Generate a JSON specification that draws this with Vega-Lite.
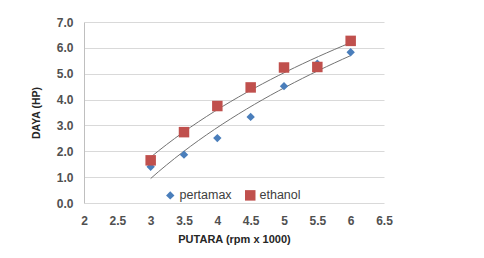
{
  "$schema": "https://vega.github.io/schema/vega-lite/v6.json",
  "width": 300,
  "height": 181,
  "autosize": "none",
  "padding": {"left": 84, "top": 22, "right": 100, "bottom": 55},
  "background": "white",
  "config": {
    "font": "Liberation Sans",
    "view": {"stroke": null}
  },
  "data": {
    "values": [
      {"fuel": "pertamax", "putara": 3, "daya": 1.40},
      {"fuel": "pertamax", "putara": 3.5, "daya": 1.87},
      {"fuel": "pertamax", "putara": 4, "daya": 2.51},
      {"fuel": "pertamax", "putara": 4.5, "daya": 3.33},
      {"fuel": "pertamax", "putara": 5, "daya": 4.52},
      {"fuel": "pertamax", "putara": 5.5, "daya": 5.39},
      {"fuel": "pertamax", "putara": 6, "daya": 5.83},
      {"fuel": "ethanol", "putara": 3, "daya": 1.65},
      {"fuel": "ethanol", "putara": 3.5, "daya": 2.74},
      {"fuel": "ethanol", "putara": 4, "daya": 3.75},
      {"fuel": "ethanol", "putara": 4.5, "daya": 4.47},
      {"fuel": "ethanol", "putara": 5, "daya": 5.24},
      {"fuel": "ethanol", "putara": 5.5, "daya": 5.26},
      {"fuel": "ethanol", "putara": 6, "daya": 6.27}
    ]
  },
  "encoding": {
    "x": {
      "field": "putara",
      "type": "quantitative",
      "scale": {"domain": [2, 6.5], "nice": false, "zero": false},
      "axis": {
        "title": "PUTARA (rpm x 1000)",
        "values": [2, 2.5, 3, 3.5, 4, 4.5, 5, 5.5, 6, 6.5],
        "format": "~g",
        "grid": false,
        "domain": false,
        "ticks": false,
        "labelPadding": 12,
        "labelFontSize": 12,
        "labelFontWeight": "bold",
        "labelColor": "#505050",
        "labelFlush": false,
        "labelOverlap": false,
        "titleFontSize": 11,
        "titleFontWeight": "bold",
        "titleColor": "#262626",
        "titlePadding": 7
      }
    },
    "y": {
      "field": "daya",
      "type": "quantitative",
      "scale": {"domain": [0, 7], "nice": false},
      "axis": {
        "title": "DAYA (HP)",
        "values": [0, 1, 2, 3, 4, 5, 6, 7],
        "format": ".1f",
        "grid": true,
        "gridColor": "#d9d9d9",
        "domainColor": "#bfbfbf",
        "ticks": false,
        "labelPadding": 11,
        "labelFontSize": 12,
        "labelColor": "#505050",
        "labelFontWeight": "bold",
        "labelOverlap": false,
        "labelFlush": false,
        "titleFontSize": 10.5,
        "titleFontWeight": "bold",
        "titleColor": "#262626",
        "titlePadding": 15
      }
    }
  },
  "layer": [
    {
      "transform": [
        {"regression": "daya", "on": "putara", "groupby": ["fuel"], "method": "log"}
      ],
      "mark": {"type": "line", "color": "#737373", "strokeWidth": 1},
      "encoding": {
        "detail": {"field": "fuel"}
      }
    },
    {
      "mark": {"type": "point", "filled": true, "opacity": 1},
      "encoding": {
        "color": {
          "field": "fuel",
          "type": "nominal",
          "scale": {"domain": ["pertamax", "ethanol"], "range": ["#4a7ebb", "#c0504d"]},
          "legend": {
            "title": null,
            "orient": "none",
            "legendX": 80,
            "legendY": 167,
            "direction": "horizontal",
            "labelFontSize": 12.5,
            "labelColor": "#404040",
            "symbolSize": 40,
            "labelOffset": 3,
            "columnPadding": 12
          }
        },
        "shape": {
          "field": "fuel",
          "type": "nominal",
          "scale": {"domain": ["pertamax", "ethanol"], "range": ["diamond", "square"]}
        },
        "size": {
          "field": "fuel",
          "type": "nominal",
          "scale": {"domain": ["pertamax", "ethanol"], "range": [70, 110]},
          "legend": null
        }
      }
    }
  ]
}
